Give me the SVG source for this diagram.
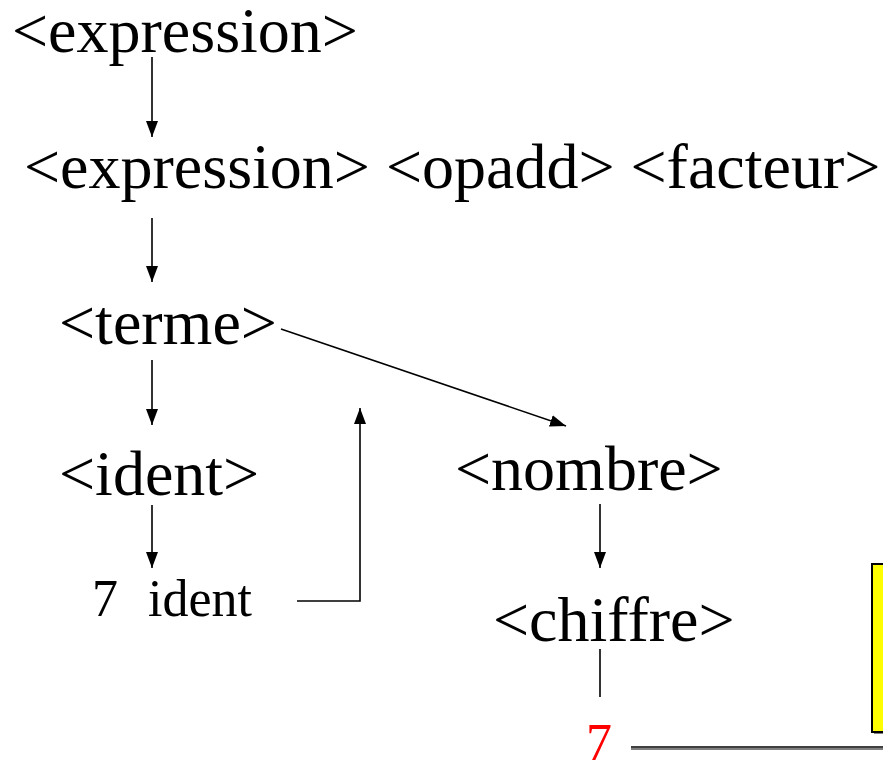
<svg xmlns="http://www.w3.org/2000/svg" width="883" height="762" viewBox="0 0 883 762">
<style>
.t{font-family:"Liberation Serif","Times New Roman",serif;font-size:64px;fill:#000}
.s{font-family:"Liberation Serif","Times New Roman",serif;font-size:52px;fill:#000}
.c{stroke:#000;stroke-width:1.6;fill:none}
.a{marker-end:url(#ah)}
</style>
<defs>
<marker id="ah" markerUnits="userSpaceOnUse" markerWidth="17" markerHeight="13" refX="16" refY="6" orient="auto">
<path d="M0,0 L16,6 L0,12 z" fill="#000"/>
</marker>
</defs>
<rect width="883" height="762" fill="#fff"/>
<g id="n-expression"><text class="t" x="12" y="52">&lt;expression&gt;</text></g>
<g id="n-production"><text class="t" x="24" y="188">&lt;expression&gt; &lt;opadd&gt; &lt;facteur&gt;</text></g>
<g id="n-terme"><text class="t" x="59" y="344">&lt;terme&gt;</text></g>
<g id="n-ident"><text class="t" x="59" y="495">&lt;ident&gt;</text></g>
<g id="n-nombre"><text class="t" x="455" y="490">&lt;nombre&gt;</text></g>
<g id="n-7ident"><text class="s" x="92" y="616">7</text><text class="s" x="148" y="616">ident</text></g>
<g id="n-chiffre"><text class="t" x="493" y="641">&lt;chiffre&gt;</text></g>
<g id="n-7"><text class="s" x="586" y="760" style="fill:#ff0000">7</text></g>
<g id="n-box"><rect x="874" y="566" width="20" height="168" fill="#808080"/><rect x="872" y="564" width="20" height="168" fill="#ffff00" stroke="#000" stroke-width="2"/></g>
<g id="connectors">
<line class="c a" x1="152" y1="57" x2="152" y2="137"/>
<line class="c a" x1="152" y1="218" x2="152" y2="282"/>
<line class="c a" x1="152" y1="360" x2="152" y2="425"/>
<line class="c a" x1="281" y1="329" x2="566" y2="426"/>
<polyline class="c a" points="297,601 360,601 360,408"/>
<line class="c a" x1="152" y1="505" x2="152" y2="568"/>
<line class="c a" x1="600" y1="504" x2="600" y2="568"/>
<line class="c" x1="600" y1="649" x2="600" y2="697"/>
<line x1="631" y1="749" x2="883" y2="749" stroke="#808080" stroke-width="2"/>
<line class="c" x1="631" y1="747" x2="883" y2="747"/>
</g>
</svg>
